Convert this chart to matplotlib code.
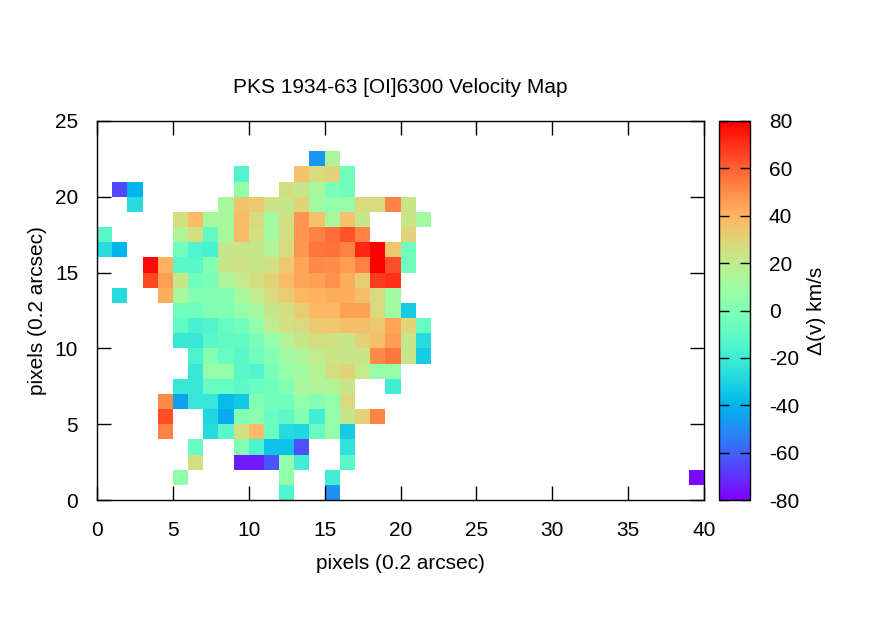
import numpy as np
import matplotlib
matplotlib.use("Agg")
import matplotlib.pyplot as plt
from matplotlib.colors import Normalize
from matplotlib.cm import ScalarMappable

plt.rcParams['font.family'] = ['Liberation Sans', 'DejaVu Sans']
plt.rcParams['axes.unicode_minus'] = False

N = None
# Velocity values (km/s) per row of pixels, columns 0..22; None = no data
row_00 = [N]*12 + [-15, N, N, -49] + [N]*7
row_01 = [N]*5 + [5] + [N]*6 + [5, N, N, -19] + [N]*7
row_02 = [N]*6 + [25, N, N, -74, -74, -62, 5, -19, N, N, -12] + [N]*6
row_03 = [N]*6 + [-8, N, N, 1, -16, -36, -36, -63, N, N, -25] + [N]*6
row_04 = [N]*4 + [53, N, N, -28, -12, 25, 38, -6, -28, -30, -8, 6, -33] + [N]*6
row_05 = [N]*4 + [64, N, N, -30, -42, 1, 4, -8, -11, 1, -19, 5, 22, 31, 52] + [N]*4
row_06 = [N]*4 + [51, -45, -23, -23, -38, -34, 1, -4, -5, 5, 1, 5, 28] + [N]*6
row_07 = [N]*5 + [-22, -22, -8, -8, -11, -8, -5, 1, 14, 15, 16, 22, N, N, -19] + [N]*3
row_08 = [N]*6 + [-22, 6, 6, -12, -15, -2, 7, 10, 16, 26, 30, 20, 7, 7] + [N]*3
row_09 = [N]*6 + [-16, 1, -8, -12, -5, 1, 10, 14, 20, 23, 23, 23, 51, 55, 22, -33, N]
row_10 = [N]*5 + [-22, -22, -12, -10, -10, -3, 5, 16, 23, 26, 25, 22, 31, 37, 46, 22, -27, N]
row_11 = [N]*5 + [-10, -17, -15, -8, -5, 5, 19, 25, 28, 34, 34, 37, 37, 34, 44, 30, -8, N]
row_12 = [N]*5 + [-5, -5, 1, 1, 7, 12, 22, 26, 32, 39, 39, 45, 45, 28, 10, -33, N, N]
row_13 = [N, -27, N, N, 42, 12, 1, 1, 1, 12, 20, 28, 33, 39, 40, 42, 42, 37, 28, 10, N, N, N]
row_14 = [N]*3 + [65, 45, 23, -5, -2, 14, 20, 26, 31, 38, 44, 45, 49, 42, 32, 68, 70, N, N, N]
row_15 = [N]*3 + [78, 40, -12, -12, 1, 23, 25, 23, 25, 34, 44, 51, 50, 46, 53, 80, 64, -5, N, N]
row_16 = [-27, -40, N, N, N, -5, -15, -17, 22, 23, 22, 16, 28, 48, 55, 56, 53, 72, 80, 34, -5, N, N]
row_17 = [-12, N, N, N, N, 15, 26, -10, 12, 38, 25, 11, 26, 48, 53, 57, 63, 52, N, N, 30, N, N]
row_18 = [N]*5 + [25, 38, 12, 12, 38, 27, 11, 25, 48, 36, 14, 36, 22, N, N, 23, 10, N]
row_19 = [N, N, -27] + [N]*5 + [12, 35, 34, 24, 22, 30, 10, 5, 7, 28, 28, 52, 23, N, N]
row_20 = [N, -65, -40] + [N]*6 + [5, N, N, 26, 22, 12, -2, -5] + [N]*6
row_21 = [N]*9 + [-15, N, N, N, 36, 28, 30, -5] + [N]*6
row_22 = [N]*14 + [-48, 14] + [N]*7
row_23 = [N]*23

# isolated pixel far right
outlier_col = 39
outlier_row = 1
outlier_val = -78

rows = [row_00, row_01, row_02, row_03, row_04, row_05, row_06, row_07,
        row_08, row_09, row_10, row_11, row_12, row_13, row_14, row_15,
        row_16, row_17, row_18, row_19, row_20, row_21, row_22, row_23]

nx, ny = 40, 25
grid = np.full((ny, nx), np.nan)
for j, r in enumerate(rows):
    for i, v in enumerate(r):
        if v is not None:
            grid[j, i] = v
grid[outlier_row, outlier_col] = outlier_val
grid = np.ma.masked_invalid(grid)

FS = 15
W, H = 890, 623
fig = plt.figure(figsize=(W/100, H/100), dpi=100)
ax = fig.add_axes([97/W, (H-500)/H, (704-97)/W, (500-121)/H])

cmap = plt.get_cmap('rainbow')
norm = Normalize(vmin=-80, vmax=80)
xe = np.arange(nx + 1)
ye = np.arange(ny + 1)
ax.pcolormesh(xe, ye, grid, cmap=cmap, norm=norm, shading='flat')

ax.set_xlim(0, 40)
ax.set_ylim(0, 25)
ax.set_xticks(np.arange(0, 41, 5))
ax.set_yticks(np.arange(0, 26, 5))
ax.tick_params(direction='in', length=10, width=1, top=True, right=True,
               labelsize=FS, colors='black')
ax.tick_params(axis='x', pad=15)
ax.tick_params(axis='y', pad=13.5)
for s in ax.spines.values():
    s.set_linewidth(1)
ax.set_xlabel('pixels (0.2 arcsec)', fontsize=FS, labelpad=10)
ax.set_ylabel('pixels (0.2 arcsec)', fontsize=FS, labelpad=6)
ax.set_title('PKS 1934-63 [OI]6300 Velocity Map', fontsize=FS, pad=20)

cax = fig.add_axes([719/W, (H-500)/H, 31/W, (500-121)/H])
sm = ScalarMappable(norm=norm, cmap=cmap)
cb = fig.colorbar(sm, cax=cax)
cb.set_ticks(np.arange(-80, 81, 20))
cb.ax.tick_params(direction='in', length=7, width=1, left=True, right=True,
                  labelsize=FS, pad=13.5)
cb.outline.set_linewidth(1)
cb.set_label('Δ(v) km/s', fontsize=FS, labelpad=6)

fig.savefig('out.png', dpi=100)
